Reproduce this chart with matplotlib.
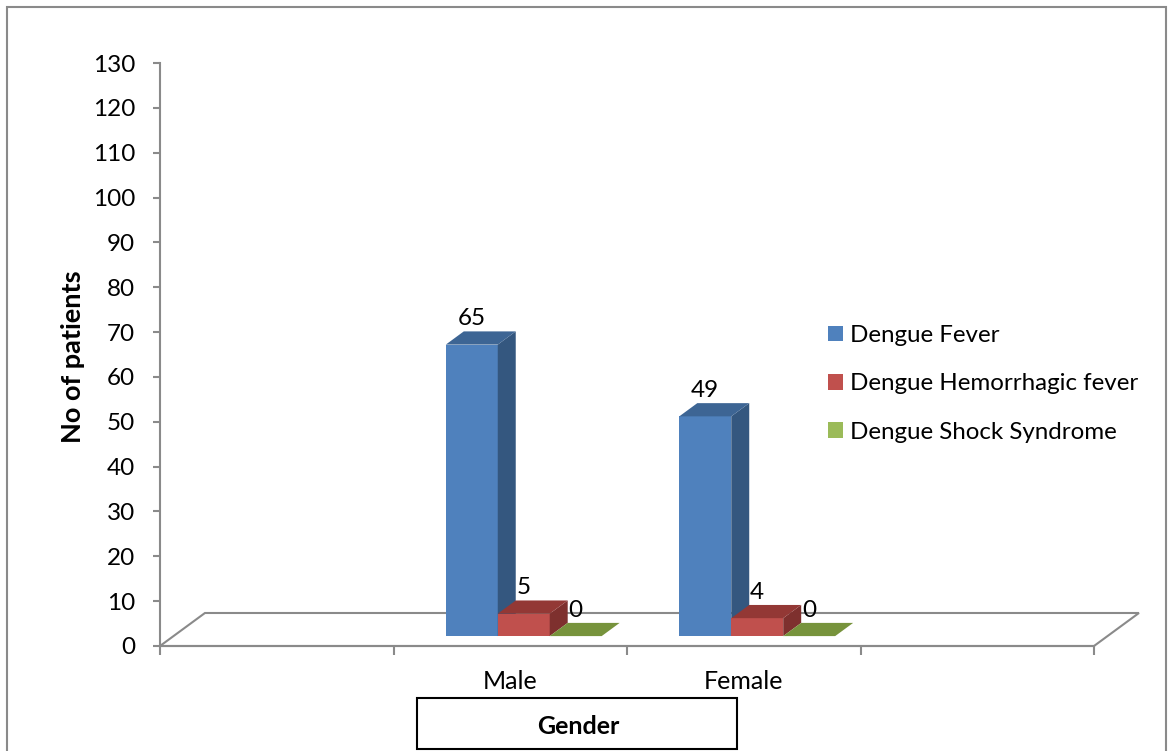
import numpy as np
import matplotlib.pyplot as plt
from matplotlib.patches import Polygon, Rectangle, Patch

# ---------------- data ----------------
genders = ["Male", "Female"]
series = ["Dengue Fever", "Dengue Hemorrhagic fever", "Dengue Shock Syndrome"]
fever = [65, 49]
hemorrhagic = [5, 4]
shock = [0, 0]

front_col = ["#4F81BD", "#C0504D", "#9BBB59"]
side_col = ["#34577F", "#7E302E", "#6E8A3A"]
top_col = ["#3D6594", "#933835", "#77933C"]

FONT = "Lato"
plt.rcParams["font.family"] = [FONT, "DejaVu Sans"]

W, H = 1169, 751
fig = plt.figure(figsize=(W / 100, H / 100), dpi=100)


def fx(px):
    return px / W


def fy(py):
    return 1 - py / H


ax = fig.add_axes([fx(160), fy(646), (1094 - 160) / W, (646 - 63) / H])
ax.set_xlim(0, 4)
ax.set_ylim(0, 130)
ax.patch.set_visible(False)

# floor depth (data units) and bar geometry
DX, DY = 0.1925, 7.36
w = 0.2225
d0, d1 = 0.3, 0.7
gray = "#8A8A8A"

# floor outline
floor = Polygon([(0, 0), (4, 0), (4 + DX, DY), (DX, DY), (0, 0)],
                closed=True, facecolor="none", edgecolor=gray,
                linewidth=1.5, clip_on=False, zorder=1)
ax.add_patch(floor)

centers = np.arange(len(genders)) + 1.5
ddx, ddy = (d1 - d0) * DX, (d1 - d0) * DY

for j, vals in enumerate([fever, hemorrhagic, shock]):
    for i, v in enumerate(vals):
        x0 = centers[i] - 1.5 * w + j * w + d0 * DX
        y0 = d0 * DY
        if v > 0:
            ax.add_patch(Rectangle((x0, y0), w, v, facecolor=front_col[j],
                                   edgecolor="none", clip_on=False, zorder=3))
            ax.add_patch(Polygon([(x0 + w, y0), (x0 + w, y0 + v),
                                  (x0 + w + ddx, y0 + v + ddy),
                                  (x0 + w + ddx, y0 + ddy)],
                                 facecolor=side_col[j], edgecolor="none",
                                 clip_on=False, zorder=3))
        ax.add_patch(Polygon([(x0, y0 + v), (x0 + w, y0 + v),
                              (x0 + w + ddx, y0 + v + ddy),
                              (x0 + ddx, y0 + v + ddy)],
                             facecolor=top_col[j], edgecolor="none",
                             clip_on=False, zorder=3))
        ax.annotate(str(v), (x0 + w / 2, y0 + v + ddy),
                    xytext=(0, 4.5), textcoords="offset points",
                    ha="center", va="baseline", fontsize=17.5,
                    annotation_clip=False, zorder=5)

# axes styling
for s in ["top", "right"]:
    ax.spines[s].set_visible(False)
for s in ["left", "bottom"]:
    ax.spines[s].set_color(gray)
    ax.spines[s].set_linewidth(1.5)

ax.set_yticks(range(0, 131, 10))
ax.tick_params(axis="y", direction="out", length=5, width=1.5,
               color=gray, pad=13, labelsize=17.5)
ax.set_xticks(range(5))
ax.set_xticklabels([])
ax.tick_params(axis="x", which="major", direction="out", length=6.5,
               width=1.5, color=gray)
ax.set_xticks(centers, minor=True)
ax.set_xticklabels(genders, minor=True, fontsize=18)
ax.tick_params(axis="x", which="minor", length=0, pad=17)

fig.text(fx(73), fy(357), "No of patients", rotation=90, ha="center",
         va="center", fontsize=19.5, fontweight="bold")

# x axis title box
fig.patches.append(Rectangle((fx(417), fy(749)), (737 - 417) / W,
                             (749 - 698) / H, transform=fig.transFigure,
                             facecolor="white", edgecolor="black",
                             linewidth=1.5))
fig.text(fx(578), fy(727), "Gender", ha="center", va="center",
         fontsize=18, fontweight="bold")

# outer frame
fig.patches.append(Rectangle((fx(7), fy(760)), (1166 - 7) / W, (760 - 7) / H,
                             transform=fig.transFigure, facecolor="none",
                             edgecolor=gray, linewidth=1.5))

handles = [Patch(facecolor=c, edgecolor="none") for c in front_col]
fig.legend(handles, series, loc="upper left",
           bbox_to_anchor=(fx(828), fy(325)), frameon=False,
           borderpad=0, borderaxespad=0, handlelength=0.62,
           handleheight=0.62, handletextpad=0.3, labelspacing=1.13,
           fontsize=17.4)

fig.savefig("out.png", dpi=100)
